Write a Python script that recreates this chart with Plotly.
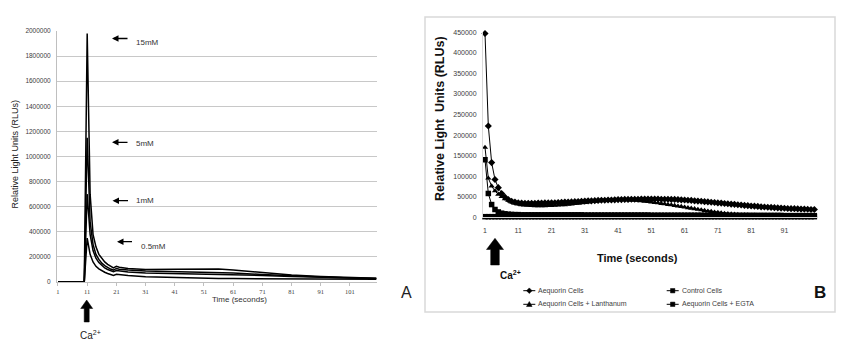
import plotly.graph_objects as go

# page body has an 8px margin, so the figure is sized to fit the 850x345 window
OFF = 8
W, H = 850 - OFF, 345 - OFF

# ---------------- Panel A data ----------------
a_time = [1, 10, 11, 12, 13, 14, 15, 16, 17, 18, 19, 20, 21, 22, 25, 31, 41, 51, 56, 61, 71, 81, 91, 101, 110]
a_15mM = [0, 0, 1980000, 700000, 380000, 280000, 220000, 185000, 160000, 140000, 125000, 112000, 125000, 118000,
          108000, 100000, 102000, 106000, 103000, 95000, 72000, 55000, 44000, 35000, 30000]
a_5mM = [0, 0, 1150000, 480000, 300000, 220000, 180000, 150000, 130000, 115000, 103000, 95000, 108000, 102000,
         95000, 87000, 82000, 80000, 77000, 72000, 60000, 48000, 39000, 32000, 28000]
a_1mM = [0, 0, 700000, 380000, 250000, 190000, 155000, 130000, 112000, 100000, 90000, 82000, 92000, 88000,
         80000, 72000, 68000, 65000, 63000, 60000, 52000, 44000, 37000, 31000, 27000]
a_05mM = [0, 0, 350000, 220000, 160000, 125000, 105000, 90000, 78000, 68000, 60000, 53000, 62000, 58000,
          52000, 42000, 35000, 30000, 28000, 27000, 25000, 24000, 23000, 22000, 21000]
a_xticks = [1, 11, 21, 31, 41, 51, 61, 71, 81, 91, 101]
a_yticks = [0, 200000, 400000, 600000, 800000, 1000000, 1200000, 1400000, 1600000, 1800000, 2000000]

# ---------------- Panel B data ----------------
b_time = list(range(1, 101))
b_aequorin = [447000, 222000, 133000, 92000, 72000, 58000, 49000, 43000, 39000, 37000,
              35500, 34500, 34000, 34000, 34000, 34000, 34500, 34500, 35000, 35000,
              35500, 35500, 36000, 36500, 37000, 37000, 37500, 38000, 38500, 39000,
              39500, 40000, 40000, 40500, 41000, 41500, 41500, 42000, 42000, 42500,
              43000, 43000, 43500, 43500, 44000, 44000, 44000, 44500, 44500, 44500,
              44500, 44500, 44500, 44000, 44000, 44000, 43500, 43500, 43000, 42500,
              42000, 41500, 41000, 40000, 39500, 39000, 38000, 37500, 36500, 36000,
              35000, 34500, 33500, 33000, 32000, 31500, 30500, 30000, 29000, 28500,
              27500, 27000, 26500, 25500, 25000, 24500, 24000, 23500, 23000, 22500,
              22000, 21500, 21000, 21000, 20500, 20000, 20000, 19500, 19000, 19000]
b_control = [140000, 58000, 31000, 19000, 13000, 10000, 8500, 7500, 7000, 6500,
             6500, 6000, 6000, 6000, 6000, 6000, 6000, 6000, 6000, 6000,
             6000, 6000, 6000, 6000, 6000, 6000, 6000, 6000, 6000, 6000,
             5500, 5500, 5500, 5500, 5500, 5500, 5500, 5500, 5500, 5500,
             5500, 5500, 5500, 5500, 5500, 5500, 5500, 5500, 5500, 5500,
             5000, 5000, 5000, 5000, 5000, 5000, 5000, 5000, 5000, 5000,
             5000, 5000, 5000, 5000, 5000, 5000, 5000, 5000, 5000, 5000,
             4500, 4500, 4500, 4500, 4500, 4500, 4500, 4500, 4500, 4500,
             4500, 4500, 4500, 4500, 4500, 4500, 4500, 4500, 4500, 4500,
             4000, 4000, 4000, 4000, 4000, 4000, 4000, 4000, 4000, 4000]
b_lanthanum = [170000, 95000, 76000, 64000, 56000, 50000, 45000, 41000, 37000, 34000,
               32000, 30500, 29500, 29000, 28500, 28000, 28000, 28000, 28000, 28500,
               28500, 29000, 29500, 30000, 30500, 31500, 32000, 33000, 34000, 35000,
               36000, 37000, 38000, 39000, 40000, 41000, 41500, 42000, 42500, 43000,
               43000, 43000, 43000, 42500, 42000, 41500, 41000, 40000, 39000, 38000,
               37000, 36000, 35000, 33500, 32500, 31000, 30000, 28500, 27000, 26000,
               24500, 23000, 22000, 20500, 19000, 18000, 16500, 15000, 14000, 12500,
               11500, 10500, 9500, 8500, 8000, 7500, 7000, 6500, 6000, 6000,
               5500, 5500, 5000, 5000, 5000, 4500, 4500, 4500, 4500, 4000,
               4000, 4000, 4000, 4000, 3500, 3500, 3500, 3500, 3500, 3500]
b_egta = [1500, 1500, 1500, 1500, 1500, 1500, 1500, 1500, 1500, 1500,
          1500, 1500, 1500, 1500, 1500, 1500, 1500, 1500, 1500, 1500,
          1500, 1500, 1500, 1500, 1500, 1500, 1500, 1500, 1500, 1500,
          1500, 1500, 1500, 1500, 1500, 1500, 1500, 1500, 1500, 1500,
          1500, 1500, 1500, 1500, 1500, 1500, 1500, 1500, 1500, 1500,
          1500, 1500, 1500, 1500, 1500, 1500, 1500, 1500, 1500, 1500,
          1500, 1500, 1500, 1500, 1500, 1500, 1500, 1500, 1500, 1500,
          1500, 1500, 1500, 1500, 1500, 1500, 1500, 1500, 1500, 1500,
          1500, 1500, 1500, 1500, 1500, 1500, 1500, 1500, 1500, 1500,
          1500, 1500, 1500, 1500, 1500, 1500, 1500, 1500, 1500, 1500]
b_names = ["Aequorin Cells", "Control Cells", "Aequorin Cells + Lanthanum", "Aequorin Cells + EGTA"]
b_symbols = ["diamond", "square", "triangle-up", "square"]
b_xticks = [1, 11, 21, 31, 41, 51, 61, 71, 81, 91]
b_yticks = [0, 50000, 100000, 150000, 200000, 250000, 300000, 350000, 400000, 450000]


def px(x):
    return (x - OFF) / W


def py(y):
    return 1 - (y - OFF) / H


fig = go.Figure()

# Panel A traces
for ys in (a_15mM, a_5mM, a_1mM, a_05mM):
    fig.add_trace(go.Scatter(x=a_time, y=ys, mode="lines", line=dict(color="black", width=1.5),
                             showlegend=False, xaxis="x", yaxis="y", hoverinfo="skip"))

# Panel B traces
for name, ys, sym in zip(b_names, (b_aequorin, b_control, b_lanthanum, b_egta), b_symbols):
    fig.add_trace(go.Scatter(x=b_time, y=ys, mode="lines+markers", name=name, showlegend=False,
                             line=dict(color="black", width=1),
                             marker=dict(symbol=sym, size=5.5, color="black"),
                             cliponaxis=False, xaxis="x2", yaxis="y2"))

clear = "rgba(0,0,0,0)"
fig.update_layout(
    width=W, height=H, margin=dict(l=0, r=0, t=0, b=0),
    paper_bgcolor="white", plot_bgcolor="white",
    xaxis=dict(domain=[px(57), px(377)], range=[0.66, 110.25], tickvals=a_xticks, automargin=False,
               tickfont=dict(family="Liberation Serif", size=6.5, color="#404040"),
               showgrid=False, zeroline=False, showline=True, linecolor="#bfbfbf",
               ticks="outside", ticklen=3, tickcolor="#bfbfbf"),
    yaxis=dict(domain=[py(282), py(31)], range=[0, 2000000], tickvals=a_yticks, automargin=False,
               tickformat="d", tickfont=dict(family="Liberation Sans", size=6.5, color="#404040"),
               ticks="outside", ticklen=4, tickcolor=clear,
               showgrid=True, gridcolor="#c8c8c8", gridwidth=1, zeroline=False,
               showline=True, linecolor="#bfbfbf"),
    xaxis2=dict(domain=[px(483), px(818)], range=[0.4, 101.1], tickvals=b_xticks, automargin=False,
                tickfont=dict(family="Liberation Sans", size=7, color="#404040"),
                ticks="outside", ticklen=6, tickcolor=clear,
                showgrid=False, zeroline=False, showline=True, linecolor="#d9d9d9", anchor="y2"),
    yaxis2=dict(domain=[py(217.3), py(32.3)], range=[0, 450000], tickvals=b_yticks, automargin=False,
                tickformat="d", tickfont=dict(family="Liberation Sans", size=7, color="#404040"),
                ticks="outside", ticklen=4, tickcolor=clear,
                showgrid=False, zeroline=False, showline=True, linecolor="#d9d9d9", anchor="x2"),
)

shapes = []
# Panel B frame
shapes.append(dict(type="rect", xref="paper", yref="paper", x0=px(425), x1=px(835), y0=py(312), y1=py(17),
                   line=dict(color="#d9d9d9", width=1.5), fillcolor=clear, layer="below"))


def poly(pts):
    path = "M " + " L ".join(f"{px(x):.5f},{py(y):.5f}" for x, y in pts) + " Z"
    return dict(type="path", xref="paper", yref="paper", path=path, fillcolor="black",
                line=dict(color="black", width=0.5))


def up_arrow(cx, tip, head_base, bottom, head_w, shaft_w):
    return poly([(cx, tip), (cx + head_w / 2, head_base), (cx + shaft_w / 2, head_base),
                 (cx + shaft_w / 2, bottom), (cx - shaft_w / 2, bottom), (cx - shaft_w / 2, head_base),
                 (cx - head_w / 2, head_base)])


shapes.append(up_arrow(86.7, 300, 308.5, 322, 12, 5))
shapes.append(up_arrow(495, 238.3, 249.5, 265, 17, 8.6))


def text(x, y, s, font, xanchor="center", yanchor="middle", angle=0):
    return dict(xref="paper", yref="paper", x=px(x), y=py(y), text=s, showarrow=False,
                xanchor=xanchor, yanchor=yanchor, textangle=angle, font=font)


# Legend of panel B (two columns)
ann = []
legfont = dict(family="Liberation Sans", size=7, color="#404040")
leg_pos = [(523.3, 290.7), (666.7, 290.7), (523.3, 304.3), (666.7, 304.3)]
for (lx, ly), name, sym in zip(leg_pos, b_names, b_symbols):
    shapes.append(dict(type="line", xref="paper", yref="paper", x0=px(lx), x1=px(lx + 12), y0=py(ly), y1=py(ly),
                       line=dict(color="black", width=1)))
    cx = lx + 6
    if sym == "diamond":
        shapes.append(poly([(cx, ly - 2.8), (cx + 2.8, ly), (cx, ly + 2.8), (cx - 2.8, ly)]))
    elif sym == "square":
        shapes.append(poly([(cx - 2.2, ly - 2.2), (cx + 2.2, ly - 2.2), (cx + 2.2, ly + 2.2), (cx - 2.2, ly + 2.2)]))
    else:
        shapes.append(poly([(cx, ly - 2.8), (cx + 2.8, ly + 2.2), (cx - 2.8, ly + 2.2)]))
    ann.append(text(lx + 13, ly, name, legfont, xanchor="left"))
fig.update_layout(shapes=shapes)

lab_font = dict(family="Liberation Sans", size=8, color="#333333")
for (x_head, x_tail, ya, s, xt, yt) in [
    (112, 129, 38.5, "15mM", 134, 42.5),
    (112, 129, 142.3, "5mM", 134, 144),
    (112.5, 129.5, 200.7, "1mM", 134, 200.7),
    (117, 133.5, 241.7, "0.5mM", 138.5, 246.5),
]:
    ann.append(dict(xref="paper", yref="paper", x=px(x_head), y=py(ya), ax=x_tail - x_head, ay=0,
                    axref="pixel", ayref="pixel", text="", showarrow=True, arrowhead=2, arrowsize=1,
                    arrowwidth=1.3, arrowcolor="black"))
    ann.append(text(xt, yt, s, lab_font, xanchor="left"))

ann.append(text(14.5, 154, "Relative Light Units (RLUs)",
                dict(family="Liberation Sans", size=9, color="#222222"), angle=-90))
ann.append(text(240, 299, "Time (seconds)", dict(family="Liberation Sans", size=8, color="#333333")))
ann.append(text(90, 327, "Ca<sup>2+</sup>", dict(family="Liberation Sans", size=10, color="#222222"),
                yanchor="top"))
ann.append(text(406, 292.5, "A", dict(family="Liberation Sans", size=16, color="#222222")))

ann.append(text(440, 119, "<b>Relative Light  Units (RLUs)</b>",
                dict(family="Liberation Sans", size=12.5, color="#111111"), angle=-90))
ann.append(text(637, 258, "<b>Time (seconds)</b>", dict(family="Liberation Sans", size=11, color="#111111")))
ann.append(text(510, 266.5, "<b>Ca<sup>2+</sup></b>", dict(family="Liberation Sans", size=10, color="#111111"),
                yanchor="top"))
ann.append(text(820, 292.5, "<b>B</b>", dict(family="Liberation Sans", size=17, color="#111111")))
fig.update_layout(annotations=ann)

fig.write_html("out.html")
